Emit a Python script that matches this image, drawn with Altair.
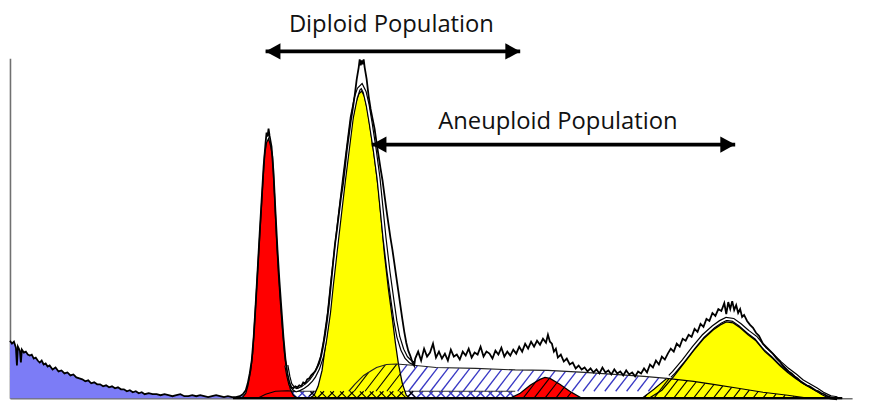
import altair as alt
import numpy as np
import pandas as pd

# ---------------- measured histogram (channel, count) ----------------
data_x = [10, 12, 14, 16, 17, 18, 20, 21, 22, 24, 26, 28, 30, 32, 34, 36, 38, 40, 42, 44, 46, 48, 50,
          53, 56, 59, 62, 65, 68, 71, 74, 77, 80, 83, 86, 89, 92, 95, 98, 101, 104, 107, 110, 113, 116,
          119, 122, 125, 128, 131, 134, 137, 140, 143, 146, 150, 154, 158, 162, 166, 170, 174, 178, 182,
          186, 190, 194, 198, 202, 206, 210, 214, 218, 222, 226, 230, 234, 238, 242, 245,
          248, 250, 252, 254, 256, 258, 260, 262, 264, 266, 268, 269, 270, 271, 272, 274, 276, 278, 280,
          282, 284, 286, 288, 290, 292, 294, 296, 298, 300, 302, 304, 306, 308, 310, 312, 314, 316, 318, 320,
          322, 324, 326, 328, 330, 332, 334, 336, 338, 340, 342, 344, 346, 348, 350, 352, 354, 356, 358, 360,
          362, 363, 364, 365, 366, 367, 368, 370, 372, 374, 376, 378, 380, 382, 384, 386, 388, 390, 392, 394,
          396, 398, 400, 402, 404, 406, 408, 410, 412, 414, 416, 418,
          419, 422, 425, 428, 431, 434, 437, 440, 443, 446, 449, 452, 455, 458, 461, 464, 467, 470, 473, 476,
          479, 482, 485, 488, 491, 494, 497, 500, 503, 506, 509, 512, 515, 518, 521, 524, 527, 530, 533, 536,
          539, 542, 545, 548, 551, 553, 555, 557, 559, 561, 563, 566, 569, 572, 575, 578, 581, 584, 587, 590,
          593, 596, 599, 602, 605, 608, 611, 614, 617, 620, 623, 626, 629, 632, 635, 638, 641, 644, 647, 650,
          653, 656, 659, 662, 665, 668, 671, 674, 677, 680, 683, 686, 689, 692, 695, 698, 701, 704, 707, 710,
          713, 716, 719, 722, 725, 728, 731, 733, 735, 737, 739, 741, 743, 745, 747, 749, 751, 754, 757, 760,
          763, 766, 770, 775, 780, 784, 787, 790, 793, 796, 799, 802, 805, 808, 811, 814, 817, 820, 823, 826,
          829, 832, 835, 838, 842, 850]
data_y = [58, 55, 57, 51, 33, 52, 48, 36, 49, 46, 47, 44, 43, 44, 40, 41, 38, 36, 38, 34, 35, 32, 33,
          29, 31, 27, 28, 25, 26, 23, 24, 21, 20, 19, 17, 18, 15, 16, 14, 14, 12, 13, 11, 12, 10,
          11, 9, 9, 7, 8, 6, 7, 5, 6, 4, 5, 4, 4, 3, 4, 3, 2, 3, 4,
          2, 2, 3, 2, 3, 2, 1, 2, 3, 2, 1, 2, 1, 1, 2, 4,
          8, 15, 25, 38, 62, 95, 130, 166, 200, 234, 258, 268, 264, 272, 265, 254, 228, 188, 150,
          118, 90, 62, 40, 25, 16, 11, 10, 12, 11, 13, 12, 16, 15, 19, 20, 23, 25, 27, 31,
          35, 42, 52, 64, 78, 95, 115, 135, 155, 170, 186, 202, 215, 232, 250, 265, 280, 292, 306, 322,
          334, 342, 336, 341, 337, 342, 334, 322, 305, 292, 282, 272, 258, 245, 232, 220, 205, 190, 176, 162,
          150, 136, 122, 108, 94, 80, 67, 56, 48, 43, 37, 33,
          40, 47, 38, 50, 42, 46, 55, 41, 47, 40, 45, 38, 49, 42, 44, 39, 47, 43, 50, 41,
          46, 44, 52, 42, 47, 45, 40, 48, 44, 51, 42, 47, 43, 49, 45, 52, 47, 55, 50, 57,
          52, 58, 54, 60, 56, 64, 57, 55, 47, 50, 41, 44, 37, 40, 34, 36, 30, 33, 29, 31,
          27, 30, 26, 29, 25, 31, 26, 28, 24, 29, 25, 27, 23, 28, 24, 26, 22, 27, 25, 30,
          26, 34, 31, 38, 34, 42, 39, 45, 50, 47, 55, 52, 60, 58, 64, 62, 70, 67, 75, 72,
          80, 78, 86, 83, 90, 88, 96, 85, 97, 90, 98, 89, 94, 86, 90, 82, 84, 78, 74, 71,
          66, 63, 55, 50, 45, 40, 37, 33, 30, 27, 25, 22, 20, 17, 15, 13, 12, 10, 8, 7,
          5, 4, 2, 1, 0, 0]

# ---------------- fitted model components ----------------
debris_end = 245

red1_x = [244, 248, 250, 253, 255, 257, 259, 261, 263, 265, 267, 269, 271, 273, 275, 277, 279, 281,
          283, 285, 287, 289, 291, 293, 296, 300]
red1_y = [0, 5, 12, 28, 46, 78, 112, 146, 180, 214, 246, 258, 262, 255, 244, 205, 162, 125,
          96, 70, 46, 30, 18, 9, 3, 0]

yel1_x = [312, 317, 321, 325, 328, 332, 335, 339, 343, 347, 351, 355, 359, 362, 365, 368, 371, 374,
          378, 382, 385, 388, 392, 396, 399, 402, 406, 410, 414]
yel1_y = [0, 3, 12, 28, 50, 80, 110, 145, 180, 214, 246, 278, 298, 307, 310, 304, 290, 270,
          242, 210, 178, 145, 110, 80, 56, 35, 15, 3, 0]

red2_x = [515, 525, 535, 545, 550, 555, 565, 575, 587]
red2_y = [0, 5, 13, 19, 21, 20, 14, 7, 0]

yel2_x = [655, 668, 680, 690, 700, 710, 720, 727, 733, 740, 747, 755, 763, 772, 780, 787, 795, 803,
          810, 817, 824, 830, 838]
yel2_y = [0, 8, 22, 35, 48, 60, 69, 74, 77, 76, 71, 64, 58, 47, 40, 33, 26, 20,
          15, 11, 7, 4, 0]

# S-phase (hatched) component
sph_x = [352, 358, 367, 375, 380, 390, 400, 420, 440, 480, 520, 553, 590, 620, 650, 673]
sph_y = [7, 14, 23, 28, 31, 34, 34.5, 33, 31, 30, 28.5, 28, 26, 24, 22, 20]

# right hatched (yellow) component
yr_x = [648, 660, 673, 700, 720, 745, 770, 795, 815]
yr_y = [0, 9, 20, 17, 14, 10, 6, 3, 0]

# low aggregate strip (cross-hatched)
strip_x = [293, 520]
strip_h = 7

# base-of-peak diploid S component outline
dsp_x = [260, 268, 278, 290, 298]
dsp_y = [0, 4, 7, 7.5, 7]

# model envelope (fit), two visible segments
model_x = [289, 291, 293, 296, 299, 302, 306, 310, 314, 317, 321, 325, 328, 332, 335, 339, 343, 347,
           351, 355, 359, 362, 365, 368, 371, 374, 378, 382, 385, 388, 392, 396, 399, 402, 406, 410,
           414, 418,
           676, 680, 690, 700, 710, 720, 727, 733, 740, 747, 755, 763, 772, 780, 787, 795, 803, 810,
           817, 824, 830, 838, 845]
model_y = [33, 22, 14, 10, 8, 9, 11, 14, 18, 22, 30, 42, 58, 86, 115, 150, 185, 219,
           251, 283, 303, 312, 315, 309, 296, 278, 252, 222, 192, 162, 128, 99, 78, 62, 49, 41,
           37, 35,
           22, 26, 38, 51, 63, 72, 77, 80, 79, 74, 67, 61, 50, 43, 36, 29, 23, 17,
           13, 9, 5, 1, 0]
model_seg = ["a"] * 38 + ["b"] * 23

base_x = [235, 850]
base_y = [0, 0]

labels = ["Diploid Population", "Aneuploid Population"]
label_x = [395, 563]
label_y = [370, 272]
arrow_x1 = [268, 375]
arrow_x2 = [525, 742]
arrow_y = [350, 256]

# ---------------- helpers ----------------
def fn(xa, ya):
    xa = np.asarray(xa, float)
    ya = np.asarray(ya, float)
    return lambda x: np.interp(x, xa, ya, left=0.0, right=0.0)


def hatch(lo, hi, top_fn, bot_fn, spacing, s, phase=0.0):
    xs = np.arange(lo, hi + 1e-9, 0.2)
    top = top_fn(xs)
    bot = bot_fn(xs)
    H = max(top.max(), 1.0)
    start = np.floor((lo - H / abs(s) - spacing - phase) / spacing) * spacing + phase
    rows = []
    for x0 in np.arange(start, hi + H / abs(s) + spacing, spacing):
        y = s * (xs - x0)
        m = (y >= bot) & (y <= top) & (top > bot)
        if not m.any():
            continue
        idx = np.flatnonzero(m)
        for r in np.split(idx, np.flatnonzero(np.diff(idx) > 1) + 1):
            if len(r) < 3:
                continue
            rows.append({"x": xs[r[0]], "y": y[r[0]], "x2": xs[r[-1]], "y2": y[r[-1]]})
    return pd.DataFrame(rows, columns=["x", "y", "x2", "y2"])


red1_f = fn(red1_x, red1_y)
yel1_f = fn(yel1_x, yel1_y)
red2_f = fn(red2_x, red2_y)
sph_f = fn(sph_x, sph_y)
yr_f = fn(yr_x, yr_y)
const = lambda v: (lambda x: np.full_like(x, v, dtype=float))
strip_top = lambda x: np.where((x >= strip_x[0]) & (x <= strip_x[1]), float(strip_h), 0.0)

SL = 1.3
blue_hatch = hatch(sph_x[0], sph_x[-1], sph_f, lambda x: np.maximum(strip_h, yr_f(x)), 11, SL)
black_on_yel1 = hatch(sph_x[0], yel1_x[-1], lambda x: np.minimum(sph_f(x), yel1_f(x)), const(strip_h), 11, SL)
black_on_red2 = hatch(red2_x[0], red2_x[-1], lambda x: np.minimum(sph_f(x), red2_f(x)), const(0), 11, SL)
yr_hatch = hatch(yr_x[0], yr_x[-1], yr_f, const(0), 10, SL)
strip_blue = pd.concat([hatch(strip_x[0], strip_x[1], strip_top, const(0), 10, 1.0),
                        hatch(strip_x[0], strip_x[1], strip_top, const(0), 10, -1.0)])
strip_black = pd.concat([hatch(yel1_x[0], yel1_x[-1] + 6, strip_top, const(0), 10, 1.0),
                         hatch(yel1_x[0], yel1_x[-1] + 6, strip_top, const(0), 10, -1.0)])

# ---------------- frames ----------------
data_df = pd.DataFrame({"x": data_x, "y": data_y})
debris_df = data_df[data_df.x <= debris_end]
red1_df = pd.DataFrame({"x": red1_x, "y": red1_y})
yel1_df = pd.DataFrame({"x": yel1_x, "y": yel1_y})
red2_df = pd.DataFrame({"x": red2_x, "y": red2_y})
yel2_df = pd.DataFrame({"x": yel2_x, "y": yel2_y})
yr_df = pd.DataFrame({"x": yr_x, "y": yr_y})
sph_df = pd.DataFrame({"x": sph_x, "y": sph_y})
strip_df = pd.DataFrame({"x": strip_x, "y": [strip_h, strip_h]})
dsp_df = pd.DataFrame({"x": dsp_x, "y": dsp_y})
model_df = pd.DataFrame({"x": model_x, "y": model_y, "seg": model_seg})
base_df = pd.DataFrame({"x": base_x, "y": base_y})
lab_df = pd.DataFrame({"text": labels, "x": label_x, "y": label_y})
arr_df = pd.DataFrame({"x": arrow_x1, "x2": arrow_x2, "y": arrow_y})
heads_l = pd.DataFrame({"x": arrow_x1, "y": arrow_y})
heads_r = pd.DataFrame({"x": arrow_x2, "y": arrow_y})

XS = alt.Scale(domain=[10, 860], nice=False, zero=False)
YS = alt.Scale(domain=[0, 343], nice=False, zero=False)
AX = alt.Axis(title=None, labels=False, ticks=False, grid=False, domainColor="#707070", domainWidth=1.6)
X = alt.X("x:Q", scale=XS, axis=AX)
Y = alt.Y("y:Q", scale=YS, axis=AX)

RED = "#ff0000"
YEL = "#ffff00"
DEB = "#7c7cf6"
HBL = "#3838c4"


def area(df, color, stroke=True):
    kw = dict(color=color, opacity=1)
    if stroke:
        kw.update(stroke="black", strokeWidth=1.3)
    return alt.Chart(df).mark_area(**kw).encode(x=X, y=Y)


def line(df, color, width, **enc):
    return alt.Chart(df).mark_line(color=color, strokeWidth=width).encode(x=X, y=Y, **enc)


def rules(df, color, width=1):
    return alt.Chart(df).mark_rule(color=color, strokeWidth=width).encode(
        x=X, y=Y, x2="x2:Q", y2="y2:Q")


layers = [
    area(debris_df, DEB, stroke=False),
    rules(blue_hatch, HBL, 1.3),
    rules(strip_blue, HBL, 1.4),
    line(strip_df, "#333333", 1.2),
    area(red2_df, RED),
    rules(black_on_red2, "black", 1.1),
    area(yr_df, YEL, stroke=False),
    area(yel2_df, YEL, stroke=False),
    rules(yr_hatch, "black", 1.1),
    line(yr_df, "black", 1.2),
    line(yel2_df, "black", 1.3),
    area(yel1_df, YEL),
    rules(black_on_yel1, "black", 1.1),
    rules(strip_black, "black", 1.1),
    line(sph_df, "#222222", 1.2),
    area(red1_df, RED),
    line(dsp_df, "black", 1.1),
    line(model_df, "black", 4.2, detail="seg:N"),
    line(model_df, "white", 1.8, detail="seg:N"),
    line(base_df, "black", 2.2),
    line(data_df, "black", 1.8),
    alt.Chart(arr_df).mark_rule(color="black", strokeWidth=3.8).encode(x=X, x2="x2:Q", y=Y),
    alt.Chart(heads_l).mark_point(shape="M0,0L2,-1.1L2,1.1Z", filled=True, size=225, color="black",
                                  opacity=1, strokeWidth=0).encode(x=X, y=Y),
    alt.Chart(heads_r).mark_point(shape="M0,0L-2,-1.1L-2,1.1Z", filled=True, size=225, color="black",
                                  opacity=1, strokeWidth=0).encode(x=X, y=Y),
    alt.Chart(lab_df).mark_text(font="Open Sans", fontSize=24, color="#111111", align="center",
                                baseline="alphabetic").encode(x=X, y=Y, text="text:N"),
]

chart = alt.layer(*layers).properties(
    width=850, height=343, autosize="none",
    padding={"left": 2, "top": 49, "right": 10, "bottom": 2},
).configure_view(stroke=None)

chart.save("out.html", embed_options={"renderer": "svg", "actions": False})
